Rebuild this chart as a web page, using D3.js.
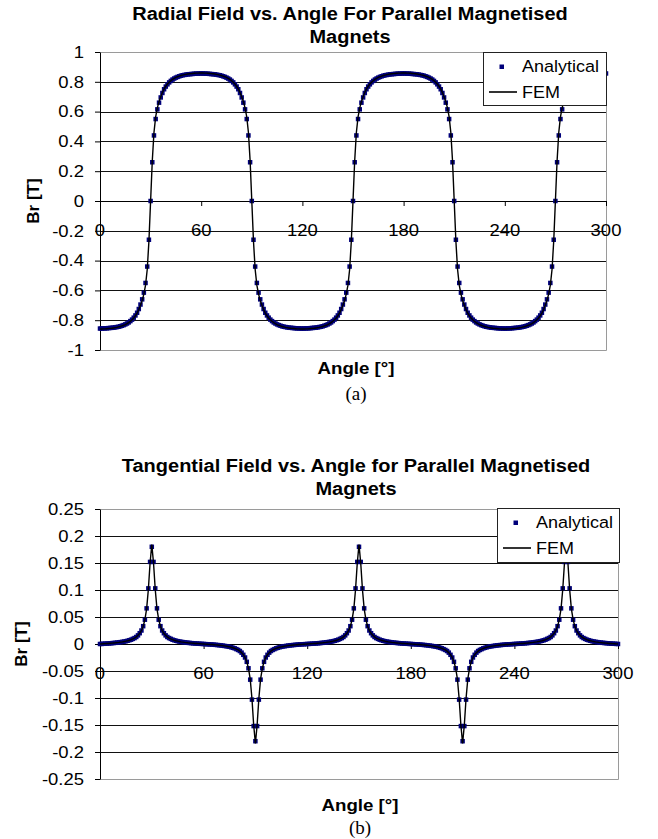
<!DOCTYPE html>
<html>
<head>
<meta charset="utf-8">
<script src="https://cdn.jsdelivr.net/npm/d3@7"></script>
<style>
body { margin: 0; background: #fff; }
svg { display: block; }
text { font-family: "Liberation Sans", Arial, sans-serif; fill: #000; }
</style>
</head>
<body>
<svg id="fig" width="658" height="839"></svg>
<script>
// sample angles [deg], one per degree
var angles = [
  0,1,2,3,4,5,6,7,8,9,10,11,12,13,14,15,16,17,18,19,20,21,22,23,24,25,26,27,28,29,
  30,31,32,33,34,35,36,37,38,39,40,41,42,43,44,45,46,47,48,49,50,51,52,53,54,55,56,57,58,59,
  60,61,62,63,64,65,66,67,68,69,70,71,72,73,74,75,76,77,78,79,80,81,82,83,84,85,86,87,88,89,
  90,91,92,93,94,95,96,97,98,99,100,101,102,103,104,105,106,107,108,109,110,111,112,113,114,115,116,117,118,119,
  120,121,122,123,124,125,126,127,128,129,130,131,132,133,134,135,136,137,138,139,140,141,142,143,144,145,146,147,148,149,
  150,151,152,153,154,155,156,157,158,159,160,161,162,163,164,165,166,167,168,169,170,171,172,173,174,175,176,177,178,179,
  180,181,182,183,184,185,186,187,188,189,190,191,192,193,194,195,196,197,198,199,200,201,202,203,204,205,206,207,208,209,
  210,211,212,213,214,215,216,217,218,219,220,221,222,223,224,225,226,227,228,229,230,231,232,233,234,235,236,237,238,239,
  240,241,242,243,244,245,246,247,248,249,250,251,252,253,254,255,256,257,258,259,260,261,262,263,264,265,266,267,268,269,
  270,271,272,273,274,275,276,277,278,279,280,281,282,283,284,285,286,287,288,289,290,291,292,293,294,295,296,297,298,299,
  300
];

// (a) radial field Br [T]
var radAnalytical = [
  -0.856,
  -0.856,-0.855,-0.855,-0.854,-0.853,-0.852,-0.851,-0.85,-0.848,-0.846,-0.844,-0.841,-0.837,-0.833,-0.828,-0.822,-0.815,-0.806,-0.796,-0.783,-0.768,-0.75,-0.725,-0.695,-0.66,-0.615,-0.55,-0.44,-0.26,0,
  0.26,0.44,0.55,0.615,0.66,0.695,0.725,0.75,0.768,0.783,0.796,0.806,0.815,0.822,0.828,0.833,0.837,0.841,0.844,0.846,0.848,0.85,0.851,0.852,0.853,0.854,0.855,0.855,0.856,0.856,
  0.856,0.855,0.855,0.854,0.853,0.852,0.851,0.85,0.848,0.846,0.844,0.841,0.837,0.833,0.828,0.822,0.815,0.806,0.796,0.783,0.768,0.75,0.725,0.695,0.66,0.615,0.55,0.44,0.26,0,
  -0.26,-0.44,-0.55,-0.615,-0.66,-0.695,-0.725,-0.75,-0.768,-0.783,-0.796,-0.806,-0.815,-0.822,-0.828,-0.833,-0.837,-0.841,-0.844,-0.846,-0.848,-0.85,-0.851,-0.852,-0.853,-0.854,-0.855,-0.855,-0.856,-0.856,
  -0.856,-0.855,-0.855,-0.854,-0.853,-0.852,-0.851,-0.85,-0.848,-0.846,-0.844,-0.841,-0.837,-0.833,-0.828,-0.822,-0.815,-0.806,-0.796,-0.783,-0.768,-0.75,-0.725,-0.695,-0.66,-0.615,-0.55,-0.44,-0.26,0,
  0.26,0.44,0.55,0.615,0.66,0.695,0.725,0.75,0.768,0.783,0.796,0.806,0.815,0.822,0.828,0.833,0.837,0.841,0.844,0.846,0.848,0.85,0.851,0.852,0.853,0.854,0.855,0.855,0.856,0.856,
  0.856,0.855,0.855,0.854,0.853,0.852,0.851,0.85,0.848,0.846,0.844,0.841,0.837,0.833,0.828,0.822,0.815,0.806,0.796,0.783,0.768,0.75,0.725,0.695,0.66,0.615,0.55,0.44,0.26,0,
  -0.26,-0.44,-0.55,-0.615,-0.66,-0.695,-0.725,-0.75,-0.768,-0.783,-0.796,-0.806,-0.815,-0.822,-0.828,-0.833,-0.837,-0.841,-0.844,-0.846,-0.848,-0.85,-0.851,-0.852,-0.853,-0.854,-0.855,-0.855,-0.856,-0.856,
  -0.856,-0.855,-0.855,-0.854,-0.853,-0.852,-0.851,-0.85,-0.848,-0.846,-0.844,-0.841,-0.837,-0.833,-0.828,-0.822,-0.815,-0.806,-0.796,-0.783,-0.768,-0.75,-0.725,-0.695,-0.66,-0.615,-0.55,-0.44,-0.26,0,
  0.26,0.44,0.55,0.615,0.66,0.695,0.725,0.75,0.768,0.783,0.796,0.806,0.815,0.822,0.828,0.833,0.837,0.841,0.844,0.846,0.848,0.85,0.851,0.852,0.853,0.854,0.855,0.855,0.856,0.856
];
var radFEM = [
  -0.859,
  -0.859,-0.858,-0.858,-0.857,-0.856,-0.855,-0.854,-0.852,-0.85,-0.848,-0.845,-0.842,-0.838,-0.834,-0.829,-0.823,-0.816,-0.807,-0.797,-0.785,-0.77,-0.752,-0.728,-0.7,-0.668,-0.625,-0.565,-0.46,-0.27,0,
  0.27,0.46,0.565,0.625,0.668,0.7,0.728,0.752,0.77,0.785,0.797,0.807,0.816,0.823,0.829,0.834,0.838,0.842,0.845,0.848,0.85,0.852,0.854,0.855,0.856,0.857,0.858,0.858,0.859,0.859,
  0.859,0.858,0.858,0.857,0.856,0.855,0.854,0.852,0.85,0.848,0.845,0.842,0.838,0.834,0.829,0.823,0.816,0.807,0.797,0.785,0.77,0.752,0.728,0.7,0.668,0.625,0.565,0.46,0.27,0,
  -0.27,-0.46,-0.565,-0.625,-0.668,-0.7,-0.728,-0.752,-0.77,-0.785,-0.797,-0.807,-0.816,-0.823,-0.829,-0.834,-0.838,-0.842,-0.845,-0.848,-0.85,-0.852,-0.854,-0.855,-0.856,-0.857,-0.858,-0.858,-0.859,-0.859,
  -0.859,-0.858,-0.858,-0.857,-0.856,-0.855,-0.854,-0.852,-0.85,-0.848,-0.845,-0.842,-0.838,-0.834,-0.829,-0.823,-0.816,-0.807,-0.797,-0.785,-0.77,-0.752,-0.728,-0.7,-0.668,-0.625,-0.565,-0.46,-0.27,0,
  0.27,0.46,0.565,0.625,0.668,0.7,0.728,0.752,0.77,0.785,0.797,0.807,0.816,0.823,0.829,0.834,0.838,0.842,0.845,0.848,0.85,0.852,0.854,0.855,0.856,0.857,0.858,0.858,0.859,0.859,
  0.859,0.858,0.858,0.857,0.856,0.855,0.854,0.852,0.85,0.848,0.845,0.842,0.838,0.834,0.829,0.823,0.816,0.807,0.797,0.785,0.77,0.752,0.728,0.7,0.668,0.625,0.565,0.46,0.27,0,
  -0.27,-0.46,-0.565,-0.625,-0.668,-0.7,-0.728,-0.752,-0.77,-0.785,-0.797,-0.807,-0.816,-0.823,-0.829,-0.834,-0.838,-0.842,-0.845,-0.848,-0.85,-0.852,-0.854,-0.855,-0.856,-0.857,-0.858,-0.858,-0.859,-0.859,
  -0.859,-0.858,-0.858,-0.857,-0.856,-0.855,-0.854,-0.852,-0.85,-0.848,-0.845,-0.842,-0.838,-0.834,-0.829,-0.823,-0.816,-0.807,-0.797,-0.785,-0.77,-0.752,-0.728,-0.7,-0.668,-0.625,-0.565,-0.46,-0.27,0,
  0.27,0.46,0.565,0.625,0.668,0.7,0.728,0.752,0.77,0.785,0.797,0.807,0.816,0.823,0.829,0.834,0.838,0.842,0.845,0.848,0.85,0.852,0.854,0.855,0.856,0.857,0.858,0.858,0.859,0.859
];

// (b) tangential field [T]
var tanAnalytical = [
  0,
  0.0002,0.0004,0.0006,0.0008,0.001,0.0013,0.0016,0.0019,0.0022,0.0026,0.003,0.0035,0.004,0.0045,0.0052,0.006,0.007,0.008,0.0095,0.011,0.013,0.016,0.02,0.025,0.033,0.045,0.066,0.103,0.152,0.18,
  0.152,0.103,0.066,0.045,0.033,0.025,0.02,0.016,0.013,0.011,0.0095,0.008,0.007,0.006,0.0052,0.0045,0.004,0.0035,0.003,0.0026,0.0022,0.0019,0.0016,0.0013,0.001,0.0008,0.0006,0.0004,0.0002,0,
  -0.0002,-0.0004,-0.0006,-0.0008,-0.001,-0.0013,-0.0016,-0.0019,-0.0022,-0.0026,-0.003,-0.0035,-0.004,-0.0045,-0.0052,-0.006,-0.007,-0.008,-0.0095,-0.011,-0.013,-0.016,-0.02,-0.025,-0.033,-0.045,-0.066,-0.103,-0.152,-0.18,
  -0.152,-0.103,-0.066,-0.045,-0.033,-0.025,-0.02,-0.016,-0.013,-0.011,-0.0095,-0.008,-0.007,-0.006,-0.0052,-0.0045,-0.004,-0.0035,-0.003,-0.0026,-0.0022,-0.0019,-0.0016,-0.0013,-0.001,-0.0008,-0.0006,-0.0004,-0.0002,0,
  0.0002,0.0004,0.0006,0.0008,0.001,0.0013,0.0016,0.0019,0.0022,0.0026,0.003,0.0035,0.004,0.0045,0.0052,0.006,0.007,0.008,0.0095,0.011,0.013,0.016,0.02,0.025,0.033,0.045,0.066,0.103,0.152,0.18,
  0.152,0.103,0.066,0.045,0.033,0.025,0.02,0.016,0.013,0.011,0.0095,0.008,0.007,0.006,0.0052,0.0045,0.004,0.0035,0.003,0.0026,0.0022,0.0019,0.0016,0.0013,0.001,0.0008,0.0006,0.0004,0.0002,0,
  -0.0002,-0.0004,-0.0006,-0.0008,-0.001,-0.0013,-0.0016,-0.0019,-0.0022,-0.0026,-0.003,-0.0035,-0.004,-0.0045,-0.0052,-0.006,-0.007,-0.008,-0.0095,-0.011,-0.013,-0.016,-0.02,-0.025,-0.033,-0.045,-0.066,-0.103,-0.152,-0.18,
  -0.152,-0.103,-0.066,-0.045,-0.033,-0.025,-0.02,-0.016,-0.013,-0.011,-0.0095,-0.008,-0.007,-0.006,-0.0052,-0.0045,-0.004,-0.0035,-0.003,-0.0026,-0.0022,-0.0019,-0.0016,-0.0013,-0.001,-0.0008,-0.0006,-0.0004,-0.0002,0,
  0.0002,0.0004,0.0006,0.0008,0.001,0.0013,0.0016,0.0019,0.0022,0.0026,0.003,0.0035,0.004,0.0045,0.0052,0.006,0.007,0.008,0.0095,0.011,0.013,0.016,0.02,0.025,0.033,0.045,0.066,0.103,0.152,0.18,
  0.152,0.103,0.066,0.045,0.033,0.025,0.02,0.016,0.013,0.011,0.0095,0.008,0.007,0.006,0.0052,0.0045,0.004,0.0035,0.003,0.0026,0.0022,0.0019,0.0016,0.0013,0.001,0.0008,0.0006,0.0004,0.0002,0
];
var tanFEM = [
  0,
  0.0002,0.0004,0.0006,0.0008,0.001,0.0013,0.0016,0.0019,0.0022,0.0026,0.003,0.0035,0.004,0.0046,0.0053,0.0061,0.007,0.0081,0.0094,0.011,0.0132,0.016,0.0198,0.025,0.033,0.045,0.065,0.101,0.15,0.184,
  0.15,0.101,0.065,0.045,0.033,0.025,0.0198,0.016,0.0132,0.011,0.0094,0.0081,0.007,0.0061,0.0053,0.0046,0.004,0.0035,0.003,0.0026,0.0022,0.0019,0.0016,0.0013,0.001,0.0008,0.0006,0.0004,0.0002,0,
  -0.0002,-0.0004,-0.0006,-0.0008,-0.001,-0.0013,-0.0016,-0.0019,-0.0022,-0.0026,-0.003,-0.0035,-0.004,-0.0046,-0.0053,-0.0061,-0.007,-0.0081,-0.0094,-0.011,-0.0132,-0.016,-0.0198,-0.025,-0.033,-0.045,-0.065,-0.101,-0.15,-0.184,
  -0.15,-0.101,-0.065,-0.045,-0.033,-0.025,-0.0198,-0.016,-0.0132,-0.011,-0.0094,-0.0081,-0.007,-0.0061,-0.0053,-0.0046,-0.004,-0.0035,-0.003,-0.0026,-0.0022,-0.0019,-0.0016,-0.0013,-0.001,-0.0008,-0.0006,-0.0004,-0.0002,0,
  0.0002,0.0004,0.0006,0.0008,0.001,0.0013,0.0016,0.0019,0.0022,0.0026,0.003,0.0035,0.004,0.0046,0.0053,0.0061,0.007,0.0081,0.0094,0.011,0.0132,0.016,0.0198,0.025,0.033,0.045,0.065,0.101,0.15,0.184,
  0.15,0.101,0.065,0.045,0.033,0.025,0.0198,0.016,0.0132,0.011,0.0094,0.0081,0.007,0.0061,0.0053,0.0046,0.004,0.0035,0.003,0.0026,0.0022,0.0019,0.0016,0.0013,0.001,0.0008,0.0006,0.0004,0.0002,0,
  -0.0002,-0.0004,-0.0006,-0.0008,-0.001,-0.0013,-0.0016,-0.0019,-0.0022,-0.0026,-0.003,-0.0035,-0.004,-0.0046,-0.0053,-0.0061,-0.007,-0.0081,-0.0094,-0.011,-0.0132,-0.016,-0.0198,-0.025,-0.033,-0.045,-0.065,-0.101,-0.15,-0.184,
  -0.15,-0.101,-0.065,-0.045,-0.033,-0.025,-0.0198,-0.016,-0.0132,-0.011,-0.0094,-0.0081,-0.007,-0.0061,-0.0053,-0.0046,-0.004,-0.0035,-0.003,-0.0026,-0.0022,-0.0019,-0.0016,-0.0013,-0.001,-0.0008,-0.0006,-0.0004,-0.0002,0,
  0.0002,0.0004,0.0006,0.0008,0.001,0.0013,0.0016,0.0019,0.0022,0.0026,0.003,0.0035,0.004,0.0046,0.0053,0.0061,0.007,0.0081,0.0094,0.011,0.0132,0.016,0.0198,0.025,0.033,0.045,0.065,0.101,0.15,0.184,
  0.15,0.101,0.065,0.045,0.033,0.025,0.0198,0.016,0.0132,0.011,0.0094,0.0081,0.007,0.0061,0.0053,0.0046,0.004,0.0035,0.003,0.0026,0.0022,0.0019,0.0016,0.0013,0.001,0.0008,0.0006,0.0004,0.0002,0
];

// ticks
var xTicks = [0, 60, 120, 180, 240, 300];
var xLabels = ["0", "60", "120", "180", "240", "300"];
var radYTicks = [1, 0.8, 0.6, 0.4, 0.2, 0, -0.2, -0.4, -0.6, -0.8, -1];
var radYLabels = ["1", "0.8", "0.6", "0.4", "0.2", "0", "-0.2", "-0.4", "-0.6", "-0.8", "-1"];
var tanYTicks = [0.25, 0.2, 0.15, 0.1, 0.05, 0, -0.05, -0.1, -0.15, -0.2, -0.25];
var tanYLabels = ["0.25", "0.2", "0.15", "0.1", "0.05", "0", "-0.05", "-0.1", "-0.15", "-0.2", "-0.25"];
var seriesNames = ["Analytical", "FEM"];

var svg = d3.select("#fig");
var SX = 1.12; // the scanned figure is a bit wide

function label(g, x, y, str, anchor, size, weight, sx) {
    return g.append("text")
        .attr("transform", "translate(" + x + "," + y + ") scale(" + sx + ",1)")
        .attr("text-anchor", anchor)
        .attr("dy", "0.35em")
        .style("font-size", size + "px")
        .style("font-weight", weight)
        .text(str);
}

function drawChart(c) {
    var x = d3.scaleLinear().domain([0, 300]).range([c.left, c.right]);
    var y = d3.scaleLinear().domain(c.yDomain).range([c.bottom, c.top]);
    var g = svg.append("g");

    // horizontal gridlines (not the border or zero line)
    g.selectAll("line.grid")
        .data(c.yTicks.filter(function (v) { return v !== 0 && v !== c.yDomain[0] && v !== c.yDomain[1]; }))
        .enter().append("line")
        .attr("class", "grid")
        .attr("x1", c.left).attr("x2", c.right)
        .attr("y1", function (d) { return Math.round(y(d)) + 0.5; })
        .attr("y2", function (d) { return Math.round(y(d)) + 0.5; })
        .attr("stroke", "#111").attr("stroke-width", 1);

    // plot area border, grey
    g.append("path")
        .attr("d", "M" + c.left + "," + (c.top + 0.5) + "H" + (c.right + 0.5) + "V" + (c.bottom + 0.5) + "H" + c.left)
        .attr("fill", "none").attr("stroke", "#9a9a9a").attr("stroke-width", 1);

    // y axis
    var ya = g.append("g")
        .attr("transform", "translate(" + c.left + ",0)")
        .call(d3.axisLeft(y).tickValues(c.yTicks).tickSize(5).tickSizeOuter(0).tickFormat(""));
    ya.selectAll("path,line").attr("stroke", "#000");

    // x axis crossing at zero
    var xa = g.append("g")
        .attr("transform", "translate(0," + Math.round(y(0)) + ")")
        .call(d3.axisBottom(x).tickValues(xTicks).tickSize(5).tickSizeOuter(0).tickFormat(""));
    xa.selectAll("path,line").attr("stroke", "#000");

    // tick labels
    c.yTicks.forEach(function (v, i) {
        label(g, c.left - 16, y(v), c.yLabels[i], "end", 16.5, "normal", SX);
    });
    xTicks.forEach(function (v, i) {
        label(g, x(v), y(0) + 29, xLabels[i], "middle", 16.5, "normal", SX);
    });

    // analytical markers
    g.selectAll("rect.pt")
        .data(angles)
        .enter().append("rect")
        .attr("class", "pt")
        .attr("x", function (d) { return x(d) - 2.25; })
        .attr("y", function (d, i) { return y(c.analytical[i]) - 2.25; })
        .attr("width", 4.5).attr("height", 4.5)
        .attr("fill", "#00007a");

    // FEM line
    var line = d3.line()
        .x(function (d) { return x(d); })
        .y(function (d, i) { return y(c.fem[i]); });
    g.append("path")
        .datum(angles)
        .attr("d", line)
        .attr("fill", "none").attr("stroke", "#000").attr("stroke-width", 1.4);

    // legend
    var L = c.legend;
    g.append("rect")
        .attr("x", L.x + 0.5).attr("y", L.y + 0.5).attr("width", L.w).attr("height", L.h)
        .attr("fill", "#fff").attr("stroke", "#222");
    g.append("rect")
        .attr("x", L.x + 16.5).attr("y", L.y + 12.5).attr("width", 4.5).attr("height", 4.5)
        .attr("fill", "#00007a");
    g.append("line")
        .attr("x1", L.x + 6).attr("x2", L.x + 34)
        .attr("y1", L.y + 40).attr("y2", L.y + 40)
        .attr("stroke", "#000").attr("stroke-width", 1.6);
    label(g, L.x + 39, L.y + 14.5, seriesNames[0], "start", 16.5, "normal", 1.09);
    label(g, L.x + 39, L.y + 40, seriesNames[1], "start", 16.5, "normal", 1.09);

    // titles
    label(g, c.titleX, c.titleY[0], c.title[0], "middle", 18.5, "bold", 1.08);
    label(g, c.titleX, c.titleY[1], c.title[1], "middle", 18.5, "bold", 1.08);
    label(g, c.xTitleX, c.xTitleY, "Angle [°]", "middle", 17, "bold", 1.1);
    g.append("text")
        .attr("transform", "translate(" + c.yTitleX + "," + y(0) + ") rotate(-90)")
        .attr("text-anchor", "middle").attr("dy", "0.35em")
        .style("font-size", "17px").style("font-weight", "bold")
        .text("Br [T]");
    g.append("text")
        .attr("x", c.xTitleX).attr("y", c.captionY).attr("dy", "0.35em")
        .attr("text-anchor", "middle")
        .style("font-family", "'Liberation Serif', 'Times New Roman', serif")
        .style("font-size", "19px")
        .text(c.caption);
}

drawChart({
    title: ["Radial Field vs. Angle For Parallel Magnetised", "Magnets"],
    titleX: 350, titleY: [14, 37],
    analytical: radAnalytical, fem: radFEM,
    yTicks: radYTicks, yLabels: radYLabels, yDomain: [-1, 1],
    left: 100, right: 606, top: 52, bottom: 350,
    yTitleX: 33, xTitleX: 356, xTitleY: 368, captionY: 393, caption: "(a)",
    legend: { x: 483, y: 52, w: 123, h: 53 }
});

drawChart({
    title: ["Tangential Field vs. Angle for Parallel Magnetised", "Magnets"],
    titleX: 356, titleY: [466, 489],
    analytical: tanAnalytical, fem: tanFEM,
    yTicks: tanYTicks, yLabels: tanYLabels, yDomain: [-0.25, 0.25],
    left: 100, right: 618, top: 509, bottom: 779,
    yTitleX: 21, xTitleX: 360, xTitleY: 805, captionY: 827, caption: "(b)",
    legend: { x: 497, y: 508, w: 122, h: 54 }
});
</script>
</body>
</html>
